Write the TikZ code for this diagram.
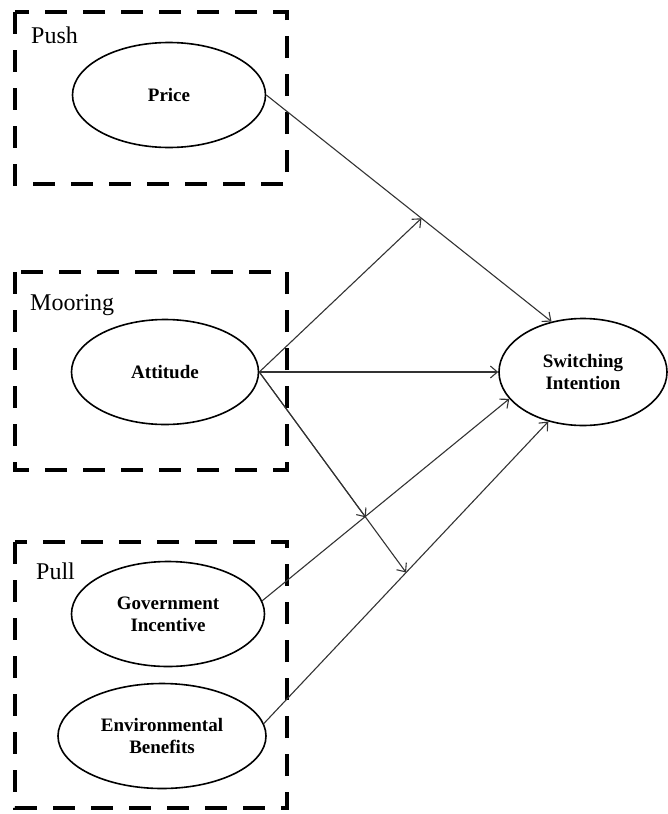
\documentclass[tikz,border=0pt]{standalone}
\usepackage{fontspec}
\setmainfont{Liberation Serif}
\usetikzlibrary{shapes.geometric, arrows.meta}

\begin{document}
\begin{tikzpicture}[
  x=1pt, y=-1pt,
  construct/.style={ellipse, draw, line width=1.6pt, inner sep=0pt, minimum height=105pt, align=center, font=\fontsize{19}{22}\selectfont\bfseries},
  groupbox/.style={draw, line width=4pt, dash pattern=on 22pt off 16pt},
  grouplabel/.style={anchor=base west, inner sep=0pt, font=\fontsize{24}{26}\selectfont},
  arrow/.style={-{Straight Barb[length=7pt, width=12pt]}, line width=1.1pt, black!80}
]
  \useasboundingbox (0,0) rectangle (668,814);

  % groups
  \draw[groupbox] (15,12) rectangle (287,184);
  \draw[groupbox] (15,272) rectangle (287,470);
  \draw[groupbox] (15,542) rectangle (287,808);
  \node[grouplabel] (pushlbl) at (31,43) {Push};
  \node[grouplabel] (mooringlbl) at (30,310) {Mooring};
  \node[grouplabel] (pulllbl) at (36,579) {Pull};

  % constructs
  \node[construct, minimum width=193pt] (price) at (169,95) {Price};
  \node[construct, minimum width=187pt] (attitude) at (165,372) {Attitude};
  \node[construct, minimum width=193pt] (govinc) at (168,614) {Government\\Incentive};
  \node[construct, minimum width=208pt] (envben) at (162,736) {Environmental\\Benefits};
  \node[construct, minimum width=168pt, minimum height=107pt] (switching) at (583,372) {Switching\\Intention};

  % paths
  \draw[arrow] (price.east) -- coordinate[pos=0.544] (modprice) (switching.122);
  \draw[arrow] (attitude.east) -- (switching.west);
  \draw[arrow] (govinc.8) -- (switching.200);
  \draw[arrow] (envben.7) -- coordinate[pos=0.5] (modenv) (switching.235);

  % moderation by attitude
  \draw[arrow] (attitude.east) -- (modprice);
  \draw[arrow] (attitude.east) -- coordinate[pos=0.725] (modgov) (modenv);
  \draw[arrow] (attitude.east) -- (modgov);

\end{tikzpicture}
\end{document}
